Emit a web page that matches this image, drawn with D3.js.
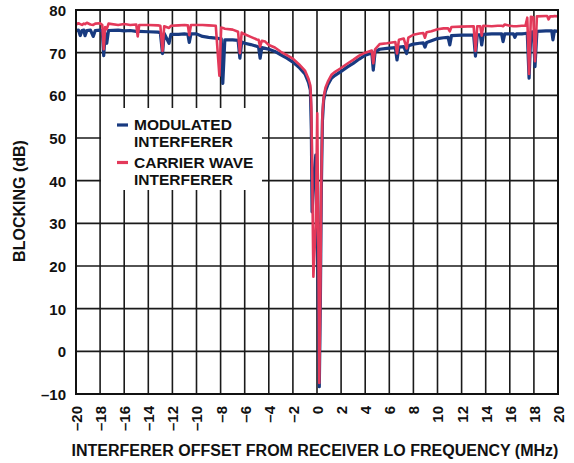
<!DOCTYPE html>
<html><head><meta charset="utf-8">
<script src="https://cdn.jsdelivr.net/npm/d3@7"></script>
<style>
html,body{margin:0;padding:0;background:#fff;}
svg{display:block;font-family:"Liberation Sans",Arial,sans-serif;font-weight:bold;}
</style></head>
<body><svg id="c" width="574" height="463"></svg>
<script>
// ---- data ----
const freq = [-20.0,-19.8,-19.65,-19.5,-19.35,-19.25,-19.1,-18.8,-18.57,-18.4,-18.0,-17.82,-17.7,-17.58,-17.45,-17.3,-16.5,-16.0,-15.5,-15.0,-14.88,-14.75,-14.0,-13.2,-13.0,-12.82,-12.68,-12.28,-12.12,-11.5,-11.0,-10.72,-10.6,-10.46,-10.0,-9.5,-9.0,-8.4,-8.1,-7.95,-7.82,-7.65,-7.0,-6.55,-6.4,-6.25,-6.0,-5.5,-5.0,-4.85,-4.72,-4.58,-4.3,-4.0,-3.5,-3.0,-2.5,-2.0,-1.5,-1.0,-0.7,-0.55,-0.47,-0.41,-0.3,-0.1,0.02,0.1,0.19,0.28,0.36,0.45,0.55,0.7,0.9,1.2,1.5,2.0,2.5,3.0,3.5,4.0,4.55,4.67,4.82,5.2,5.8,6.5,6.64,6.8,7.2,7.44,7.58,8.0,8.5,8.82,8.96,9.1,9.5,10.0,10.5,10.88,11.02,11.16,12.0,13.0,13.15,13.3,13.55,13.67,13.8,14.5,15.0,15.32,15.44,15.58,16.0,16.3,16.42,16.55,17.0,17.3,17.45,17.6,17.75,17.95,18.09,18.25,19.0,19.1,19.22,19.35,19.48,19.58,19.7,20.0];
const modulated = [75.2,75.3,74.0,75.2,75.3,74.0,75.2,75.3,73.8,75.2,75.3,75.1,69.3,74.5,72.2,75.2,75.3,75.1,75.2,75.0,75.0,75.0,74.9,74.8,74.7,69.8,74.5,72.2,74.3,74.3,74.4,74.3,72.4,74.4,74.4,73.8,73.6,73.4,73.3,73.3,62.8,73.0,73.0,72.9,68.7,72.5,72.2,71.9,71.5,71.3,68.7,71.2,71.0,70.8,70.3,69.5,68.7,67.8,66.6,65.0,63.0,61.2,52.0,32.7,38.0,46.0,40.0,15.0,-8.3,12.0,38.0,54.0,58.8,61.0,62.5,64.0,64.7,65.6,66.6,67.5,68.5,69.4,69.9,65.9,70.2,70.8,71.0,71.2,68.3,71.3,71.4,69.8,71.6,72.0,72.2,72.3,71.3,72.4,72.8,73.3,73.5,73.6,71.8,74.0,74.1,74.1,69.2,74.2,74.2,71.8,74.3,74.4,74.4,74.4,72.6,74.4,74.4,74.4,73.6,74.4,74.4,74.5,74.5,64.0,74.8,74.9,66.7,75.0,75.1,75.1,75.1,75.1,75.1,73.0,75.1,75.0];
const carrier = [76.6,76.9,76.7,76.5,76.8,76.7,77.0,76.6,76.5,76.8,76.9,76.5,70.8,76.0,75.5,76.8,76.5,76.7,76.5,76.6,73.8,76.5,76.5,76.4,76.3,70.4,76.2,75.8,76.3,76.4,76.5,76.4,74.1,76.5,76.5,76.5,76.4,76.3,64.6,75.9,75.8,75.6,75.4,74.9,69.9,74.7,74.3,73.7,73.1,73.0,71.4,72.8,72.6,71.8,71.2,70.2,69.4,68.6,67.3,65.8,63.8,62.3,57.0,45.0,17.5,30.0,55.8,30.0,-7.4,14.0,40.0,55.5,59.5,61.8,63.2,64.8,65.5,66.4,67.4,68.3,69.3,70.0,70.5,67.5,70.8,72.0,72.2,72.5,69.8,73.0,73.3,71.0,73.5,74.2,74.5,74.6,73.5,74.8,75.0,75.5,75.7,75.7,75.0,76.0,76.1,76.2,70.4,76.2,76.2,74.0,76.3,76.2,76.3,76.3,76.2,76.6,76.3,76.2,76.2,76.2,76.3,76.3,78.2,65.0,78.4,78.3,68.0,78.5,78.6,78.6,77.8,78.5,78.5,78.5,78.6,78.5];
const xTicks = d3.range(-20, 21, 2);
const yTicks = d3.range(-10, 81, 10);
const seriesNames = ["MODULATED", "INTERFERER", "CARRIER WAVE", "INTERFERER"];
const xTitle = "INTERFERER OFFSET FROM RECEIVER LO FREQUENCY (MHz)";
const yTitle = "BLOCKING (dB)";

// ---- layout ----
const svg = d3.select("#c");
const L = 76, R = 558, T = 10, B = 394;
const x = d3.scaleLinear().domain([-20, 20]).range([L, R]);
const y = d3.scaleLinear().domain([-10, 80]).range([B, T]);
const fmt = v => v < 0 ? "\u2013" + Math.abs(v) : String(v);

// grid
const g = svg.append("g");
g.selectAll("line.vx").data(xTicks).join("line")
  .attr("x1", d => x(d)).attr("x2", d => x(d)).attr("y1", T).attr("y2", B)
  .attr("stroke", "#1a1a1a").attr("stroke-width", 1.6);
g.selectAll("line.hy").data(yTicks).join("line")
  .attr("x1", L).attr("x2", R).attr("y1", d => y(d)).attr("y2", d => y(d))
  .attr("stroke", "#1a1a1a").attr("stroke-width", 1.6);

// legend background (covers grid)
svg.append("rect").attr("x", 101).attr("y", 108).attr("width", 161).attr("height", 82).attr("fill", "#fff");

// lines
const pts = (vals) => freq.map((f, i) => [f, vals[i]]);
const line = d3.line().x(d => x(d[0])).y(d => y(d[1]));
svg.append("path").attr("d", line(pts(modulated))).attr("fill", "none")
  .attr("stroke", "#183a80").attr("stroke-width", 3.2).attr("stroke-linejoin", "round");
svg.append("path").attr("d", line(pts(carrier))).attr("fill", "none")
  .attr("stroke", "#e3395a").attr("stroke-width", 2.6).attr("stroke-linejoin", "round");

// frame
svg.append("rect").attr("x", L).attr("y", T).attr("width", R - L).attr("height", B - T)
  .attr("fill", "none").attr("stroke", "#111").attr("stroke-width", 2);

// axes (labels via d3 axis)
const yAxis = d3.axisLeft(y).tickValues(yTicks).tickFormat(fmt).tickSize(0).tickPadding(10);
const ya = svg.append("g").attr("transform", `translate(${L},0)`).call(yAxis);
ya.select(".domain").remove();
ya.selectAll("text").attr("font-size", 15).attr("font-family", "Liberation Sans, Arial, sans-serif")
  .attr("font-weight", "bold").attr("fill", "#111").attr("dy", "0.36em");

const xa = svg.append("g").attr("transform", `translate(0,${B})`)
  .call(d3.axisBottom(x).tickValues(xTicks).tickFormat(fmt).tickSize(0));
xa.select(".domain").remove();
xa.selectAll("text").attr("font-size", 15).attr("font-family", "Liberation Sans, Arial, sans-serif")
  .attr("font-weight", "bold").attr("fill", "#111")
  .attr("text-anchor", "end").attr("transform", "rotate(-90)")
  .attr("x", -12).attr("y", 0).attr("dy", "0.36em");

// titles
svg.append("text").attr("x", 315).attr("y", 456).attr("text-anchor", "middle")
  .attr("font-size", 16).attr("fill", "#111").text(xTitle);
svg.append("text").attr("transform", "translate(25,201) rotate(-90)").attr("text-anchor", "middle")
  .attr("font-size", 16).attr("fill", "#111").text(yTitle);

// legend
const leg = svg.append("g");
[["#183a80", 125, 130, 146.5], ["#e3395a", 162.5, 168, 184.5]].forEach((d, i) => {
  leg.append("line").attr("x1", 117).attr("x2", 128).attr("y1", d[1]).attr("y2", d[1])
    .attr("stroke", d[0]).attr("stroke-width", 3.2);
  leg.append("text").attr("x", 134).attr("y", d[2]).attr("font-size", 15.5).attr("fill", "#111").text(seriesNames[i * 2]);
  leg.append("text").attr("x", 134).attr("y", d[3]).attr("font-size", 15.5).attr("fill", "#111").text(seriesNames[i * 2 + 1]);
});
</script></body></html>
